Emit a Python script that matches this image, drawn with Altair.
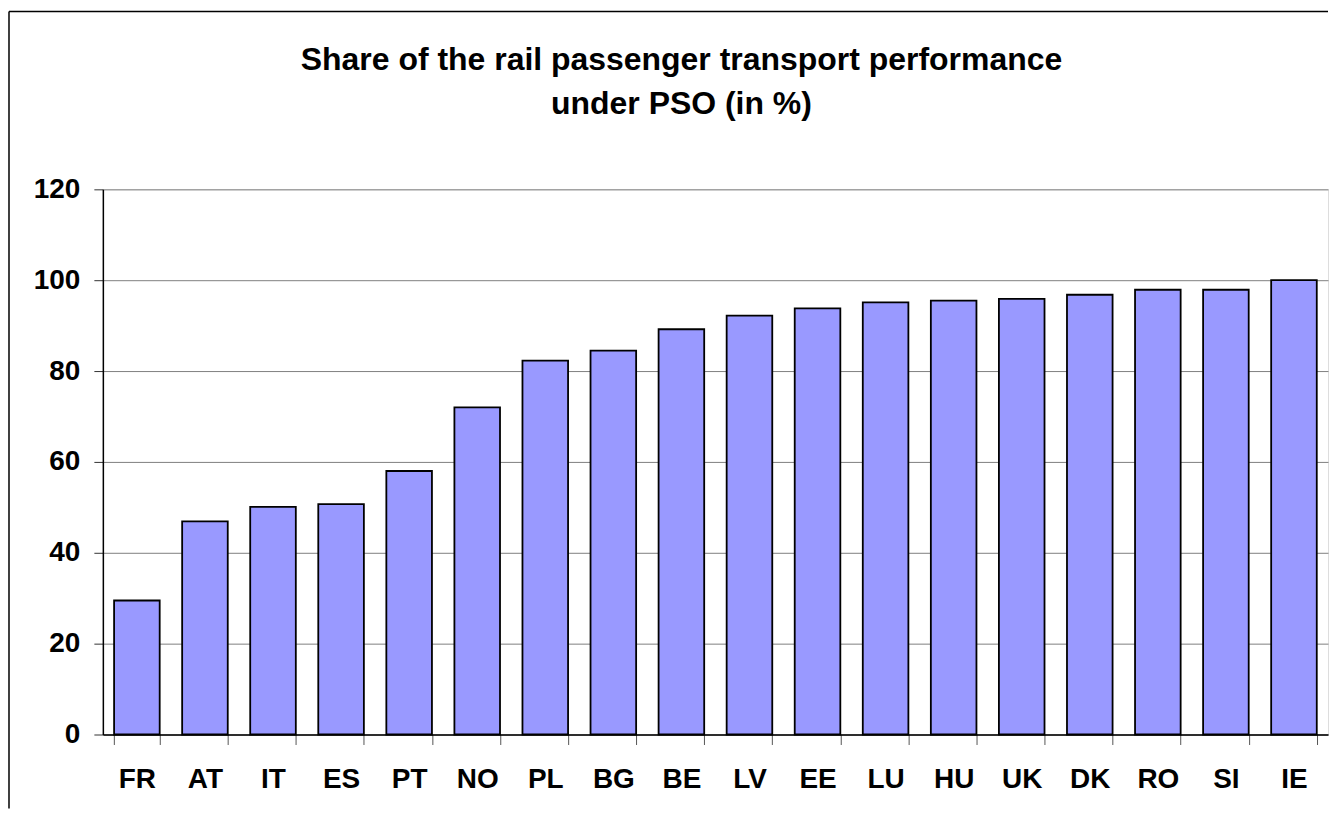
import altair as alt
import pandas as pd

countries = ["FR", "AT", "IT", "ES", "PT", "NO", "PL", "BG", "BE", "LV",
             "EE", "LU", "HU", "UK", "DK", "RO", "SI", "IE"]
shares = [29.5, 46.9, 50.1, 50.7, 58.0, 72.0, 82.3, 84.5, 89.2, 92.2,
          93.8, 95.1, 95.5, 95.9, 96.8, 97.9, 97.9, 100.0]
title_lines = ["Share of the rail passenger transport performance",
               "under PSO (in %)"]

df = pd.DataFrame({"country": countries, "share": shares})

W, H = 1227, 546
FONT = "Liberation Sans"

bars = alt.Chart(df).mark_bar(
    color="#9999FF", stroke="#000000", strokeWidth=1.8
).encode(
    x=alt.X("country:N", sort=countries,
            scale=alt.Scale(paddingInner=0.33, paddingOuter=0.165),
            axis=alt.Axis(title=None, labelAngle=0, labelFont=FONT,
                          labelFontSize=28, labelFontWeight="bold",
                          labelColor="#000000", labelPadding=21,
                          tickBand="extent", tickSize=10, tickColor="#555555",
                          tickWidth=1, domainColor="#000000", domainWidth=1.5,
                          grid=False)),
    y=alt.Y("share:Q",
            scale=alt.Scale(domain=[0, 120], nice=False),
            axis=alt.Axis(title=None, values=[0, 20, 40, 60, 80, 100, 120],
                          labelFont=FONT, labelFontSize=28,
                          labelFontWeight="bold", labelColor="#000000",
                          labelPadding=14, tickSize=9, tickColor="#333333",
                          tickWidth=1, domainColor="#000000", domainWidth=1.5,
                          grid=True, gridColor="#808080", gridWidth=1)),
)

one = pd.DataFrame({"k": [0]})

frame_left = alt.Chart(one).mark_rule(
    color="#000000", strokeWidth=1.5, clip=False
).encode(x=alt.value(-94), y=alt.value(-178), y2=alt.value(H + 74))

frame_top = alt.Chart(one).mark_rule(
    color="#000000", strokeWidth=1.5, clip=False
).encode(x=alt.value(-94), x2=alt.value(W), y=alt.value(-178))

title1 = alt.Chart(pd.DataFrame({"t": [title_lines[0]]})).mark_text(
    font=FONT, fontSize=32, fontWeight="bold", color="#000000",
    align="center", baseline="alphabetic", clip=False
).encode(text="t:N", x=alt.value(W / 2 - 34), y=alt.value(-120))

title2 = alt.Chart(pd.DataFrame({"t": [title_lines[1]]})).mark_text(
    font=FONT, fontSize=32, fontWeight="bold", color="#000000",
    align="center", baseline="alphabetic", clip=False
).encode(text="t:N", x=alt.value(W / 2 - 34), y=alt.value(-75))

chart = alt.layer(bars, frame_left, frame_top, title1, title2).properties(
    width=W, height=H,
    padding={"left": 0, "top": 2, "right": 0, "bottom": 0},
).configure_view(stroke=None).configure(background="#ffffff")

chart.save("out.html", embed_options={"renderer": "svg", "actions": False})
